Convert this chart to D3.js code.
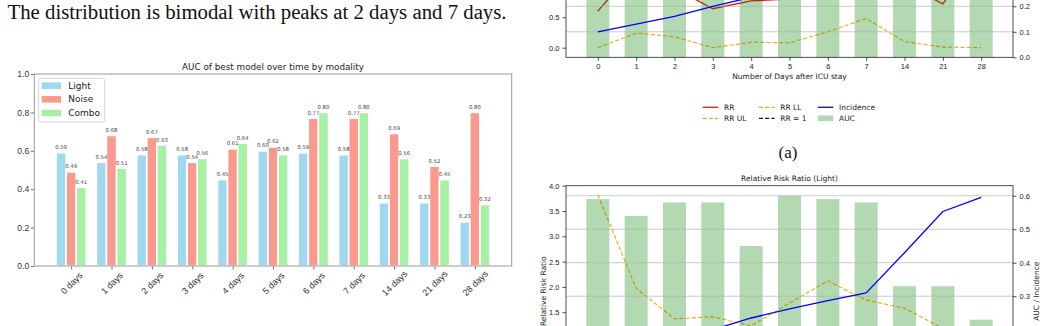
<!DOCTYPE html>
<html>
<head>
<meta charset="utf-8">
<script src="https://cdn.jsdelivr.net/npm/d3@7"></script>
<style>
  body { margin: 0; background: #fff; }
  svg { display: block; font-family: "DejaVu Sans", sans-serif; }
</style>
</head>
<body>
<svg id="drawing_region"></svg>
<script>
// ---- data: AUC of best model by modality ----
const days = ['0 days', '1 days', '2 days', '3 days', '4 days', '5 days', '6 days', '7 days', '14 days', '21 days', '28 days'];
const modalities = ['Light', 'Noise', 'Combo'];
const lightAuc = [0.59, 0.54, 0.58, 0.58, 0.45, 0.60, 0.59, 0.58, 0.33, 0.33, 0.23];
const noiseAuc = [0.49, 0.68, 0.67, 0.54, 0.61, 0.62, 0.77, 0.77, 0.69, 0.52, 0.80];
const comboAuc = [0.41, 0.51, 0.63, 0.56, 0.64, 0.58, 0.80, 0.80, 0.56, 0.45, 0.32];

// ---- data: relative risk panels ----
const riskDays = ['0', '1', '2', '3', '4', '5', '6', '7', '14', '21', '28'];
const incidence = [0.10, 0.13, 0.16, 0.20, 0.235, 0.262, 0.287, 0.31, 0.43, 0.553, 0.595];
const rrTop = [0.60, 1.33, 0.98, 0.64, 0.77, 0.80, 1.20, 1.50, 1.05, 0.72, 1.60];
const rrLlTop = [0.0, 0.24, 0.18, 0.0, 0.09, 0.08, 0.26, 0.48, 0.10, 0.01, 0.0];
const rrUlLight = [3.82, 1.97, 1.37, 1.41, 1.23, 1.68, 2.12, 1.74, 1.58, 1.18, 1.15];
const legendItems = ['RR', 'RR UL', 'RR LL', 'RR = 1', 'Incidence', 'AUC'];

// tick labels that fall inside the page
const topLeftTicks = [0, 0.5];
const topRightTicks = [0, 0.1, 0.2];
const lightLeftTicks = [1.5, 2.0, 2.5, 3.0, 3.5, 4.0];
const lightRightTicks = [0.3, 0.4, 0.5, 0.6];

const svg = d3.select('#drawing_region')
    .attr('width', 1046)
    .attr('height', 326);

// running text of the page
svg.append('text')
    .attr('x', 7.5)
    .attr('y', 19)
    .attr('font-family', '"Liberation Serif", "Times New Roman", serif')
    .attr('font-size', 20.8)
    .attr('fill', '#111')
    .text('The distribution is bimodal with peaks at 2 days and 7 days.');

svg.append('text')
    .attr('x', 788)
    .attr('y', 158)
    .attr('text-anchor', 'middle')
    .attr('font-family', '"Liberation Serif", "Times New Roman", serif')
    .attr('font-size', 17)
    .attr('fill', '#111')
    .text('(a)');

class GroupedBarChart {

    constructor( config, series ) {
        this.config = config;
        this.series = series;
        this.init();
    }

    init() {
        let self = this;
        const c = self.config;
        self.chart = svg.append('g');
        self.xscale = d3.scaleLinear()
            .domain([-0.9125, 10.9125])
            .range([c.left, c.right]);
        self.yscale = d3.scaleLinear()
            .domain([0, 1])
            .range([c.bottom, c.top]);
    }

    render() {
        let self = this;
        const c = self.config;
        const bw = 0.25;

        self.series.forEach( (vals, j) => {
            const off = (j - 1) * bw;
            self.chart.append('g').selectAll('rect')
                .data(vals)
                .join('rect')
                .attr('x', (d, i) => self.xscale(i + off - bw / 2))
                .attr('width', self.xscale(bw) - self.xscale(0))
                .attr('y', d => self.yscale(d))
                .attr('height', d => self.yscale(0) - self.yscale(d))
                .attr('fill', c.colors[j])
                .attr('stroke', '#fff')
                .attr('stroke-width', 1.6);
        });

        // value labels on top of every bar
        self.series.forEach( (vals, j) => {
            const off = (j - 1) * bw;
            self.chart.append('g').selectAll('text')
                .data(vals)
                .join('text')
                .attr('x', (d, i) => self.xscale(i + off))
                .attr('y', d => self.yscale(d) - 3.5)
                .attr('text-anchor', 'middle')
                .attr('font-size', 5.3)
                .attr('fill', '#444')
                .text(d => d.toFixed(2));
        });

        const yaxis = d3.axisLeft(self.yscale)
            .tickValues([0, 0.2, 0.4, 0.6, 0.8, 1.0])
            .tickFormat(d3.format('.1f'))
            .tickSize(3.5)
            .tickSizeOuter(0);
        const yg = self.chart.append('g')
            .attr('transform', `translate(${c.left},0)`)
            .call(yaxis);
        yg.selectAll('text').attr('font-size', 8.6).attr('fill', '#333').attr('x', -5);

        const xaxis = d3.axisBottom(self.xscale)
            .tickValues(d3.range(days.length))
            .tickFormat(i => days[i])
            .tickSize(3.5)
            .tickSizeOuter(0);
        const xg = self.chart.append('g')
            .attr('transform', `translate(0,${c.bottom})`)
            .call(xaxis);
        xg.selectAll('.tick text')
            .attr('y', null)
            .attr('dy', null)
            .attr('font-size', 9)
            .attr('fill', '#333')
            .attr('dominant-baseline', 'central')
            .attr('transform', 'translate(0,17.3) rotate(-45)');

        [yg, xg].forEach(g => {
            g.select('.domain').remove();
            g.selectAll('line').attr('stroke', '#777');
        });

        self.chart.append('rect')
            .attr('x', c.left)
            .attr('y', c.top)
            .attr('width', c.right - c.left)
            .attr('height', c.bottom - c.top)
            .attr('fill', 'none')
            .attr('stroke', '#999')
            .attr('stroke-width', 1);

        self.chart.append('text')
            .attr('x', (c.left + c.right) / 2)
            .attr('y', c.top - 4.5)
            .attr('text-anchor', 'middle')
            .attr('font-size', 8.8)
            .attr('fill', '#222')
            .text(c.title);

        // legend
        const lg = self.chart.append('g');
        lg.append('rect')
            .attr('x', 38.7).attr('y', 78.3)
            .attr('width', 66).attr('height', 43.7)
            .attr('rx', 2.5)
            .attr('fill', '#fff').attr('fill-opacity', 0.8)
            .attr('stroke', '#d5d5d5');
        modalities.forEach( (m, j) => {
            const cy = 85.7 + j * 13.65;
            lg.append('rect')
                .attr('x', 41.7).attr('y', cy - 3.3)
                .attr('width', 19.3).attr('height', 6.6)
                .attr('fill', c.colors[j]);
            lg.append('text')
                .attr('x', 68.3).attr('y', cy)
                .attr('dominant-baseline', 'central')
                .attr('font-size', 9)
                .attr('fill', '#222')
                .text(m);
        });
    }
}

class RiskChart {

    constructor( config, data ) {
        this.config = config;
        this.data = data;
        this.init();
    }

    init() {
        let self = this;
        const c = self.config;
        self.chart = svg.append('g');
        self.xscale = d3.scaleLinear()
            .domain([-0.83, 10.83])
            .range([c.left, c.right]);
        self.yleft = d3.scaleLinear()
            .domain(c.leftDomain)
            .range([c.bottom, c.top]);
        self.yright = d3.scaleLinear()
            .domain(c.rightDomain)
            .range([c.bottom, c.top]);
        self.line = (scale) => d3.line()
            .x((d, i) => self.xscale(i))
            .y(d => scale(d));
    }

    render() {
        let self = this;
        const c = self.config;
        const d = self.data;

        // left axis lines go under the twin axis bars
        if (d.rr) {
            self.chart.append('path')
                .attr('d', self.line(self.yleft)(d.rr))
                .attr('fill', 'none')
                .attr('stroke', '#e8130c')
                .attr('stroke-width', 1.3);
        }
        [d.ll, d.ul].forEach(arr => {
            if (!arr) return;
            self.chart.append('path')
                .attr('d', self.line(self.yleft)(arr))
                .attr('fill', 'none')
                .attr('stroke', '#ffa500')
                .attr('stroke-width', 1.1)
                .attr('stroke-dasharray', '4,2.2');
        });

        self.chart.append('g').selectAll('rect')
            .data(d.auc)
            .join('rect')
            .attr('x', (v, i) => self.xscale(i - 0.3))
            .attr('width', self.xscale(0.6) - self.xscale(0))
            .attr('y', v => self.yright(v))
            .attr('height', v => self.yright(0) - self.yright(v))
            .attr('fill', 'green')
            .attr('fill-opacity', 0.3);

        // grid from the right axis
        self.chart.append('g').selectAll('line')
            .data(c.rightTicks.filter(v => v > 0))
            .join('line')
            .attr('x1', c.left).attr('x2', c.right)
            .attr('y1', v => self.yright(v)).attr('y2', v => self.yright(v))
            .attr('stroke', '#b0b0b0')
            .attr('stroke-opacity', 0.75)
            .attr('stroke-width', 0.9);

        self.chart.append('path')
            .attr('d', self.line(self.yright)(d.incidence))
            .attr('fill', 'none')
            .attr('stroke', '#0000ff')
            .attr('stroke-width', 1.3);

        const fmt = d3.format('.1f');
        const axes = [];
        axes.push(self.chart.append('g')
            .attr('transform', `translate(${c.left},0)`)
            .call(d3.axisLeft(self.yleft).tickValues(c.leftTicks).tickFormat(fmt).tickSize(3.5).tickSizeOuter(0)));
        axes.push(self.chart.append('g')
            .attr('transform', `translate(${c.right},0)`)
            .call(d3.axisRight(self.yright).tickValues(c.rightTicks).tickFormat(fmt).tickSize(3.5).tickSizeOuter(0)));
        if (c.xlabel) {
            axes.push(self.chart.append('g')
                .attr('transform', `translate(0,${c.bottom})`)
                .call(d3.axisBottom(self.xscale).tickValues(d3.range(riskDays.length)).tickFormat(i => riskDays[i]).tickSize(3.5).tickSizeOuter(0)));
        }
        axes.forEach(g => {
            g.select('.domain').remove();
            g.selectAll('line').attr('stroke', '#222').attr('stroke-width', 0.8);
            g.selectAll('text').attr('font-size', 7.5).attr('fill', '#222');
        });

        self.chart.append('rect')
            .attr('x', c.left)
            .attr('y', c.top)
            .attr('width', c.right - c.left)
            .attr('height', c.bottom - c.top)
            .attr('fill', 'none')
            .attr('stroke', '#222')
            .attr('stroke-width', 0.8);

        if (c.title) {
            const mid = (c.top + c.bottom) / 2;
            self.chart.append('text')
                .attr('transform', `translate(543,${mid}) rotate(-90)`)
                .attr('text-anchor', 'middle')
                .attr('dominant-baseline', 'central')
                .attr('font-size', 7.5).attr('fill', '#222')
                .text('Relative Risk Ratio');
            self.chart.append('text')
                .attr('transform', `translate(1036.5,${mid}) rotate(-90)`)
                .attr('text-anchor', 'middle')
                .attr('dominant-baseline', 'central')
                .attr('font-size', 7.5).attr('fill', '#222')
                .text('AUC / Incidence');
            self.chart.append('text')
                .attr('x', (c.left + c.right) / 2)
                .attr('y', c.top - 4.5)
                .attr('text-anchor', 'middle')
                .attr('font-size', 7.5).attr('fill', '#222')
                .text(c.title);
        }
        if (c.xlabel) {
            self.chart.append('text')
                .attr('x', (c.left + c.right) / 2)
                .attr('y', c.bottom + 21.5)
                .attr('text-anchor', 'middle')
                .attr('font-size', 7.5).attr('fill', '#222')
                .text(c.xlabel);
        }
    }
}

const barChart = new GroupedBarChart({
    left: 34.3, right: 511.7, top: 74, bottom: 266,
    title: 'AUC of best model over time by modality',
    colors: ['rgb(159,216,239)', 'rgb(251,153,142)', 'rgb(166,241,166)']
}, [lightAuc, noiseAuc, comboAuc]);
barChart.render();

const topRisk = new RiskChart({
    left: 566, right: 1013, top: -153.7, bottom: 57.3,
    leftDomain: [-0.158, 3.31], rightDomain: [0, 0.827],
    leftTicks: topLeftTicks,
    rightTicks: topRightTicks,
    xlabel: 'Number of Days after ICU stay'
}, { auc: noiseAuc, incidence: incidence, rr: rrTop, ll: rrLlTop });
topRisk.render();

const lightRisk = new RiskChart({
    left: 566, right: 1013, top: 185.7, bottom: 396.7,
    leftDomain: [-0.17, 4.0], rightDomain: [0, 0.63],
    leftTicks: lightLeftTicks,
    rightTicks: lightRightTicks,
    title: 'Relative Risk Ratio (Light)'
}, { auc: lightAuc, incidence: incidence, ul: rrUlLight });
lightRisk.render();

// legend of panel (a)
const leg = svg.append('g');
const legX = [702.7, 702.7, 759, 759, 817.7, 817.7];
const legY = [107.3, 118.3, 107.3, 118.3, 107.3, 118.3];
const legStyle = [
    { stroke: '#e8130c' },
    { stroke: '#ffa500', dash: '4,2.2' },
    { stroke: '#ffa500', dash: '4,2.2' },
    { stroke: '#111', dash: '4,2.2' },
    { stroke: '#0000ff' },
    { patch: true }
];
legendItems.forEach( (name, k) => {
    const s = legStyle[k];
    if (s.patch) {
        leg.append('rect')
            .attr('x', legX[k]).attr('y', legY[k] - 2.8)
            .attr('width', 15.6).attr('height', 5.6)
            .attr('fill', 'green').attr('fill-opacity', 0.3);
    } else {
        leg.append('line')
            .attr('x1', legX[k]).attr('x2', legX[k] + 15.6)
            .attr('y1', legY[k]).attr('y2', legY[k])
            .attr('stroke', s.stroke)
            .attr('stroke-width', 1.3)
            .attr('stroke-dasharray', s.dash || null);
    }
    leg.append('text')
        .attr('x', legX[k] + 21.3).attr('y', legY[k])
        .attr('dominant-baseline', 'central')
        .attr('font-size', 7.5).attr('fill', '#222')
        .text(name);
});
</script>
</body>
</html>
